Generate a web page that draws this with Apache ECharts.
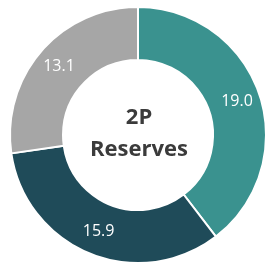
<!DOCTYPE html>
<html>
<head>
<meta charset="utf-8">
<script src="https://cdn.jsdelivr.net/npm/echarts@6/dist/echarts.min.js"></script>
<style>
  html, body { margin: 0; padding: 0; background: #fff; }
  #chart { width: 268px; height: 267px; }
</style>
</head>
<body>
<div id="chart"></div>
<script>
// reserves split, clockwise from 12 o'clock
const names = ['A', 'B', 'C']
const values = [19.0, 15.9, 13.1]
const colors = ['#3A928F', '#1F4B59', '#A6A6A6']
const centerTitle = '2P\nReserves'

let myChart = echarts.init(document.getElementById('chart'))
let option = {
  animation: false,
  graphic: [
    {
      type: 'text',
      x: 139,
      y: 134,
      style: {
        text: centerTitle,
        fill: '#3b3b3b',
        font: 'bold 22px "Open Sans", sans-serif',
        align: 'center',
        verticalAlign: 'middle',
        lineHeight: 32
      }
    }
  ],
  series: [
    {
      type: 'pie',
      center: [138, 135],
      radius: [75, 128],
      startAngle: 90,
      clockwise: true,
      itemStyle: {
        borderColor: '#fff',
        borderWidth: 2
      },
      label: {
        show: true,
        position: 'inside',
        color: '#fff',
        fontSize: 16,
        fontFamily: 'Open Sans, sans-serif',
        formatter: p => p.value.toFixed(1)
      },
      labelLine: { show: false },
      data: values.map((v, i) => ({
        name: names[i],
        value: v,
        itemStyle: { color: colors[i] }
      }))
    }
  ]
}
myChart.setOption(option)
</script>
</body>
</html>
